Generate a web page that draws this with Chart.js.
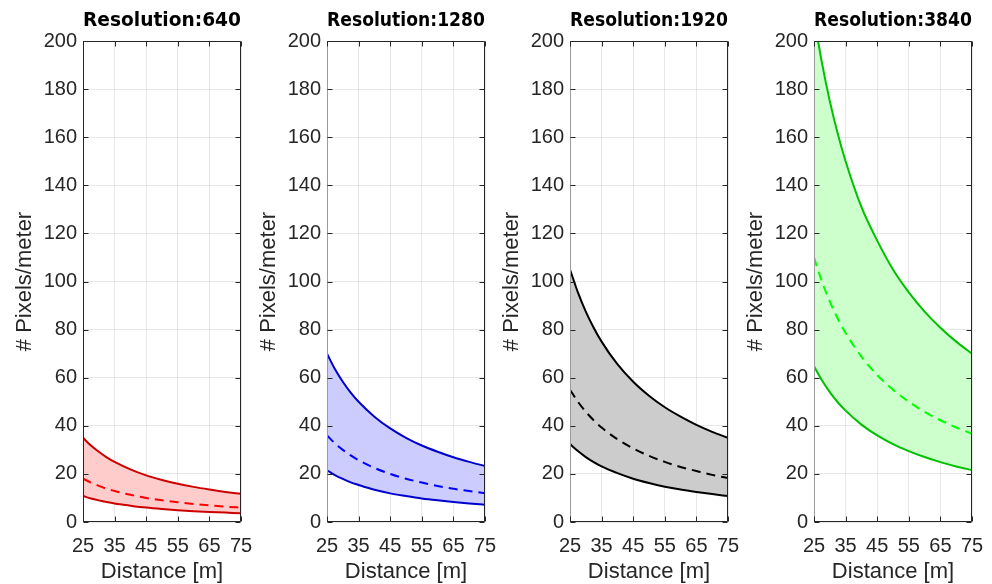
<!DOCTYPE html>
<html>
<head>
<meta charset="utf-8">
<script src="https://cdn.jsdelivr.net/npm/chart.js@4/dist/chart.umd.min.js"></script>
<style>
  html, body { margin: 0; padding: 0; background: #fff; }
  #wrap { position: relative; width: 992px; height: 584px; overflow: hidden; }
  #wrap canvas { position: absolute; top: 0; }
</style>
</head>
<body>
<div id="wrap"></div>
<script>
// --- DATA ---
const distances = [25, 27.5, 30, 32.5, 35, 40, 45, 50, 55, 60, 65, 70, 75];
const xTicks = [25, 35, 45, 55, 65, 75];
const yTicks = [0, 20, 40, 60, 80, 100, 120, 140, 160, 180, 200];
const resolutions = [640, 1280, 1920, 3840];

const upper640 = [35, 31.8, 29.2, 26.9, 25, 21.9, 19.4, 17.5, 15.9, 14.6, 13.5, 12.5, 11.7];
const mid640   = [18, 16.4, 15, 13.8, 12.9, 11.3, 10, 9, 8.2, 7.5, 6.9, 6.4, 6.0];
const lower640 = [10.8, 9.8, 9.0, 8.3, 7.7, 6.8, 6.0, 5.4, 4.9, 4.5, 4.2, 3.9, 3.6];

const upper1280 = [70, 63.6, 58.3, 53.8, 50, 43.8, 38.9, 35, 31.8, 29.2, 26.9, 25, 23.3];
const mid1280   = [36, 32.7, 30, 27.7, 25.7, 22.5, 20, 18, 16.4, 15, 13.8, 12.9, 12];
const lower1280 = [21.5, 19.5, 17.9, 16.5, 15.4, 13.4, 11.9, 10.8, 9.8, 9.0, 8.3, 7.7, 7.2];

const upper1920 = [105, 95.5, 87.5, 80.8, 75, 65.6, 58.3, 52.5, 47.7, 43.8, 40.4, 37.5, 35];
const mid1920   = [55, 50, 45.8, 42.3, 39.3, 34.4, 30.6, 27.5, 25, 22.9, 21.2, 19.6, 18.3];
const lower1920 = [32.4, 29.5, 27, 24.9, 23.1, 20.3, 18, 16.2, 14.7, 13.5, 12.5, 11.6, 10.8];

const upper3840 = [210, 191, 175, 161.5, 150, 131, 117, 105, 95.5, 87.5, 80.8, 75, 70];
const mid3840   = [110, 100, 91.7, 84.6, 78.6, 68.8, 61.1, 55, 50, 45.8, 42.3, 39.3, 36.7];
const lower3840 = [64.8, 58.9, 54, 49.8, 46.3, 40.5, 36, 32.4, 29.5, 27, 24.9, 23.1, 21.6];

const seriesByPanel = [
  [upper640, mid640, lower640],
  [upper1280, mid1280, lower1280],
  [upper1920, mid1920, lower1920],
  [upper3840, mid3840, lower3840]
];

// --- STYLE ---
const lineColors = ['#cc0000', '#0000cc', '#000000', '#00c000'];
const dashColors = ['#ff0000', '#0000ff', '#000000', '#00ff00'];
const fillColors = ['#ffcccc', '#ccccff', '#cccccc', '#ccffcc'];
const leftAxisColors = ['#262626', '#9a9a9a', '#9a9a9a', '#9a9a9a'];
const canvasLefts = [0, 244, 487, 731];
const AXIS = '#262626';

const toPoints = ys => distances.map((d, i) => ({ x: d, y: ys[i] }));

// box + inward ticks, matlab style
const boxPlugin = {
  id: 'box',
  afterDatasetsDraw(chart, args, opts) {
    const { ctx, chartArea: a, scales } = chart;
    const l = Math.round(a.left) + 0.5, r = Math.round(a.right) - 0.5;
    const t = Math.round(a.top) + 0.5, b = Math.round(a.bottom) - 0.5;
    ctx.save();
    ctx.lineWidth = 1;
    ctx.strokeStyle = opts.leftColor || AXIS;
    ctx.beginPath();
    ctx.moveTo(l, t); ctx.lineTo(l, b);
    ctx.stroke();
    ctx.strokeStyle = AXIS;
    ctx.beginPath();
    ctx.moveTo(l, t); ctx.lineTo(r, t); ctx.lineTo(r, b); ctx.lineTo(l - 0.5, b);
    xTicks.forEach(v => {
      const px = Math.round(scales.x.getPixelForValue(v)) + 0.5;
      ctx.moveTo(px, b); ctx.lineTo(px, b - 5);
      ctx.moveTo(px, t); ctx.lineTo(px, t + 5);
    });
    yTicks.forEach(v => {
      const py = Math.round(scales.y.getPixelForValue(v)) + 0.5;
      ctx.moveTo(l, py); ctx.lineTo(l + 5, py);
      ctx.moveTo(r, py); ctx.lineTo(r - 5, py);
    });
    ctx.stroke();
    ctx.restore();
  }
};

const wrap = document.getElementById('wrap');

resolutions.forEach((res, p) => {
  const canvas = document.createElement('canvas');
  canvas.width = 260;
  canvas.height = 584;
  canvas.style.left = canvasLefts[p] + 'px';
  wrap.appendChild(canvas);

  const [up, mid, low] = seriesByPanel[p];
  const common = { pointRadius: 0, borderWidth: 2, cubicInterpolationMode: 'monotone' };

  new Chart(canvas.getContext('2d'), {
    type: 'line',
    data: {
      datasets: [
        { ...common, data: toPoints(up), borderColor: lineColors[p], backgroundColor: fillColors[p], fill: 2 },
        { ...common, data: toPoints(mid), borderColor: dashColors[p], borderDash: [9, 6], fill: false },
        { ...common, data: toPoints(low), borderColor: lineColors[p], fill: false }
      ]
    },
    options: {
      responsive: false,
      animation: false,
      devicePixelRatio: 1,
      layout: { padding: { left: 0, right: 19, top: 0, bottom: 0 } },
      plugins: {
        legend: { display: false },
        tooltip: { enabled: false },
        filler: { drawTime: 'beforeDatasetsDraw' },
        box: { leftColor: leftAxisColors[p] },
        title: {
          display: true,
          text: 'Resolution:' + res,
          fullSize: false,
          color: '#000',
          font: { family: 'DejaVu Sans', size: 20, weight: 'bold', lineHeight: 1.2 },
          padding: { top: 9, bottom: 8 }
        }
      },
      scales: {
        x: {
          type: 'linear',
          min: 25, max: 75,
          afterFit: s => { s.height = 62; s.paddingLeft = 0; s.paddingRight = 0; },
          afterBuildTicks: s => { s.ticks = xTicks.map(v => ({ value: v })); },
          grid: { color: 'rgba(0,0,0,0.09)', drawTicks: false },
          border: { display: false },
          ticks: { color: AXIS, padding: 12, maxRotation: 0, font: { family: 'Liberation Sans', size: 20 } },
          title: {
            display: true, text: 'Distance [m]', color: AXIS,
            font: { family: 'Liberation Sans', size: 22, lineHeight: 1 },
            padding: { top: 0, bottom: 1 }
          }
        },
        y: {
          min: 0, max: 200,
          afterFit: s => { s.width = 83; },
          afterBuildTicks: s => { s.ticks = yTicks.map(v => ({ value: v })); },
          grid: { color: 'rgba(0,0,0,0.09)', drawTicks: false },
          border: { display: false },
          ticks: { color: AXIS, padding: 6, font: { family: 'Liberation Sans', size: 20 } },
          title: {
            display: true, text: '# Pixels/meter', color: AXIS,
            font: { family: 'Liberation Sans', size: 22, lineHeight: 1 },
            padding: { top: 14, bottom: 0 }
          }
        }
      }
    },
    plugins: [boxPlugin]
  });
});
</script>
</body>
</html>
